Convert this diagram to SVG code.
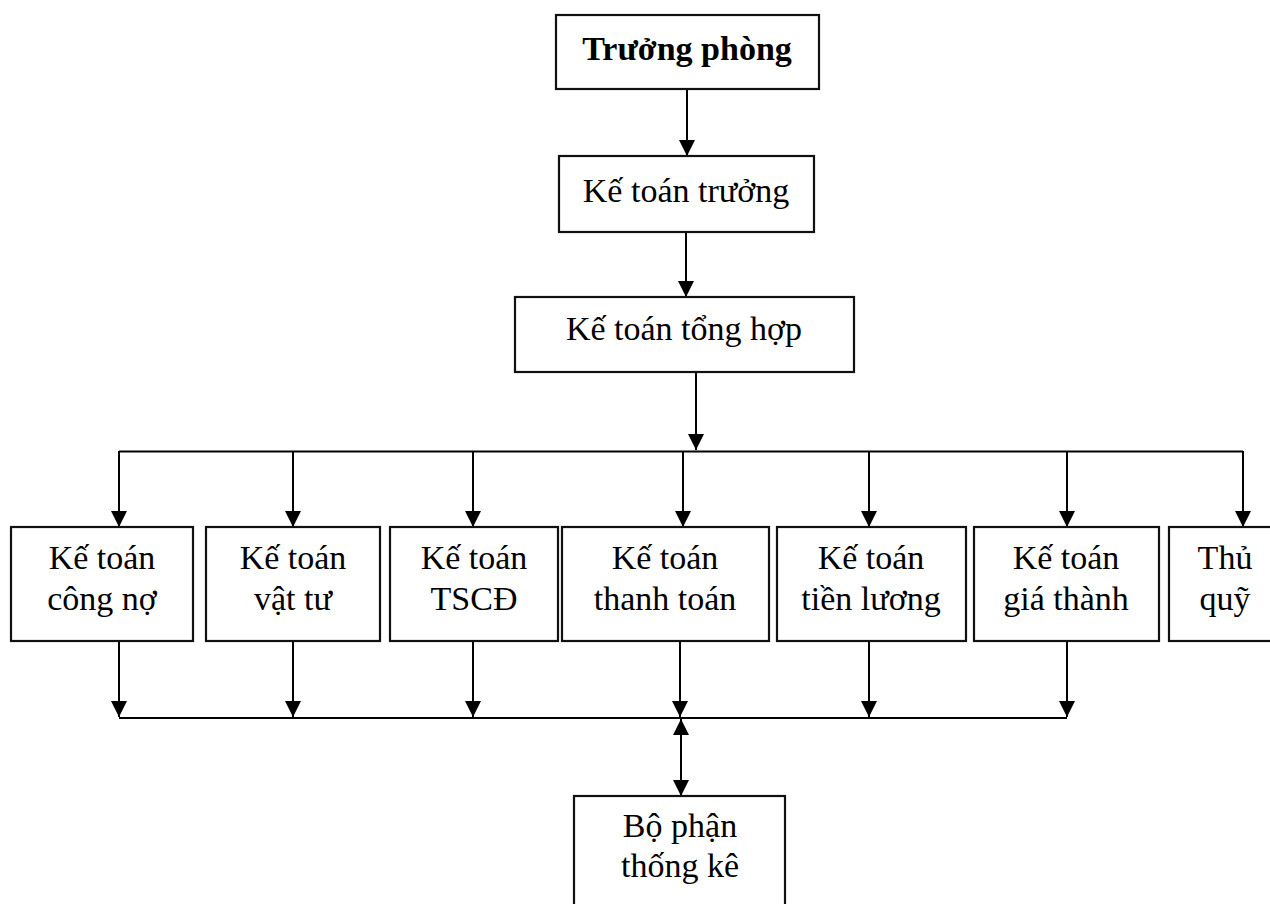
<svg xmlns="http://www.w3.org/2000/svg" width="1270" height="904" viewBox="0 0 1270 904">
  <defs>
    <marker id="arrow" markerUnits="userSpaceOnUse" markerWidth="17" markerHeight="17" refX="16" refY="8" orient="auto-start-reverse">
      <path d="M0,0 L16,8 L0,16 z" fill="#000"/>
    </marker>
    <style>
      .box { fill: #fff; stroke: #111; stroke-width: 2.2; }
      .lbl { font-family: "Liberation Serif", "Times New Roman", serif; font-size: 34px; fill: #000; text-anchor: middle; }
      .bold { font-weight: bold; }
      .wire { fill: none; stroke: #000; stroke-width: 2; }
      .arr { fill: none; stroke: #000; stroke-width: 2; marker-end: url(#arrow); }
      .arr2 { fill: none; stroke: #000; stroke-width: 2; marker-start: url(#arrow); marker-end: url(#arrow); }
    </style>
  </defs>

  <!-- connectors -->
  <g id="connectors">
    <line class="arr" x1="687" y1="89" x2="687" y2="156"/>
    <line class="arr" x1="686" y1="232" x2="686" y2="297"/>
    <line class="arr" x1="696" y1="373" x2="696" y2="450"/>
    <!-- distribution bus -->
    <line class="wire" x1="119" y1="451.5" x2="1243" y2="451.5"/>
    <line class="arr" x1="119" y1="451" x2="119" y2="527"/>
    <line class="arr" x1="293" y1="451" x2="293" y2="527"/>
    <line class="arr" x1="473" y1="451" x2="473" y2="527"/>
    <line class="arr" x1="683" y1="451" x2="683" y2="527"/>
    <line class="arr" x1="869" y1="451" x2="869" y2="527"/>
    <line class="arr" x1="1067" y1="451" x2="1067" y2="527"/>
    <line class="arr" x1="1243" y1="451" x2="1243" y2="527"/>
    <!-- collection bus -->
    <line class="wire" x1="119" y1="718" x2="1067" y2="718"/>
    <line class="arr" x1="119" y1="641" x2="119" y2="717"/>
    <line class="arr" x1="293" y1="641" x2="293" y2="717"/>
    <line class="arr" x1="473" y1="641" x2="473" y2="717"/>
    <line class="arr" x1="680" y1="641" x2="680" y2="717"/>
    <line class="arr" x1="869" y1="641" x2="869" y2="717"/>
    <line class="arr" x1="1067" y1="641" x2="1067" y2="717"/>
    <line class="arr2" x1="681" y1="719" x2="681" y2="796"/>
  </g>

  <g id="truong-phong">
    <rect class="box" x="556" y="15" width="263" height="74"/>
    <text class="lbl bold" x="687" y="60">Trưởng phòng</text>
  </g>
  <g id="ke-toan-truong">
    <rect class="box" x="559" y="156" width="255" height="76"/>
    <text class="lbl" x="686" y="202">Kế toán trưởng</text>
  </g>
  <g id="ke-toan-tong-hop">
    <rect class="box" x="515" y="297" width="339" height="75"/>
    <text class="lbl" x="684" y="340">Kế toán tổng hợp</text>
  </g>

  <g id="ke-toan-cong-no">
    <rect class="box" x="11" y="527" width="182" height="114"/>
    <text class="lbl" x="102" y="569">Kế toán</text>
    <text class="lbl" x="102" y="610">công nợ</text>
  </g>
  <g id="ke-toan-vat-tu">
    <rect class="box" x="206" y="527" width="174" height="114"/>
    <text class="lbl" x="293" y="569">Kế toán</text>
    <text class="lbl" x="293" y="610">vật tư</text>
  </g>
  <g id="ke-toan-tscd">
    <rect class="box" x="390" y="527" width="168" height="114"/>
    <text class="lbl" x="474" y="569">Kế toán</text>
    <text class="lbl" x="474" y="610">TSCĐ</text>
  </g>
  <g id="ke-toan-thanh-toan">
    <rect class="box" x="562" y="527" width="207" height="114"/>
    <text class="lbl" x="665" y="569">Kế toán</text>
    <text class="lbl" x="665" y="610">thanh toán</text>
  </g>
  <g id="ke-toan-tien-luong">
    <rect class="box" x="777" y="527" width="189" height="114"/>
    <text class="lbl" x="871" y="569">Kế toán</text>
    <text class="lbl" x="871" y="610">tiền lương</text>
  </g>
  <g id="ke-toan-gia-thanh">
    <rect class="box" x="974" y="527" width="185" height="114"/>
    <text class="lbl" x="1066" y="569">Kế toán</text>
    <text class="lbl" x="1066" y="610">giá thành</text>
  </g>
  <g id="thu-quy">
    <rect class="box" x="1169" y="527" width="112" height="114"/>
    <text class="lbl" x="1225" y="569">Thủ</text>
    <text class="lbl" x="1225" y="610">quỹ</text>
  </g>

  <g id="bo-phan-thong-ke">
    <rect class="box" x="574" y="796" width="211" height="120"/>
    <text class="lbl" x="680" y="837">Bộ phận</text>
    <text class="lbl" x="680" y="877">thống kê</text>
  </g>
</svg>
